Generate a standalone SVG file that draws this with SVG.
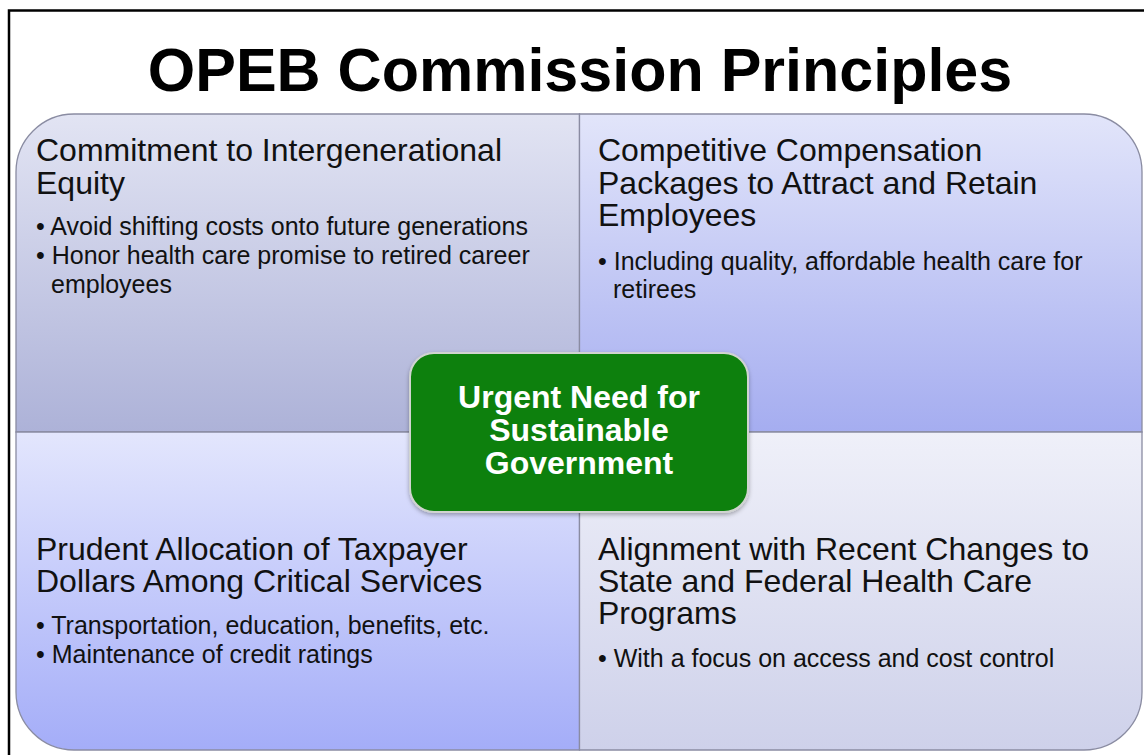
<svg xmlns="http://www.w3.org/2000/svg" width="1144" height="755" viewBox="0 0 1144 755">
<style>
.h{font-family:"Liberation Sans",Arial,sans-serif;font-size:32px;fill:#111}
.b{font-family:"Liberation Sans",Arial,sans-serif;font-size:25px;fill:#111}
.c{font-family:"Liberation Sans",Arial,sans-serif;font-size:32px;font-weight:bold;fill:#fff;text-anchor:middle}
.q{stroke:#8a8ca2;stroke-width:1.3}
</style>
<defs>
<linearGradient id="gTL" x1="0" y1="0" x2="0" y2="1"><stop offset="0" stop-color="#e2e4f3"/><stop offset="1" stop-color="#adb2d8"/></linearGradient>
<linearGradient id="gTR" x1="0" y1="0" x2="0" y2="1"><stop offset="0" stop-color="#e2e5fa"/><stop offset="1" stop-color="#a5adf0"/></linearGradient>
<linearGradient id="gBL" x1="0" y1="0" x2="0" y2="1"><stop offset="0" stop-color="#e3e6fd"/><stop offset="1" stop-color="#a4adf8"/></linearGradient>
<linearGradient id="gBR" x1="0" y1="0" x2="0" y2="1"><stop offset="0" stop-color="#eff0f9"/><stop offset="1" stop-color="#ced1ea"/></linearGradient>
<filter id="sh" x="-10%" y="-10%" width="120%" height="130%"><feDropShadow dx="0" dy="2" stdDeviation="2" flood-color="#000" flood-opacity="0.3"/></filter>
</defs>
<rect x="0" y="0" width="1144" height="755" fill="#fff"/>
<rect x="9" y="10.5" width="1200" height="800" fill="none" stroke="#000" stroke-width="2.5"/>
<text x="580" y="91" font-family="Liberation Sans, Arial, sans-serif" font-size="61" font-weight="bold" fill="#000" text-anchor="middle">OPEB Commission Principles</text>

<g id="tl">
<path class="q" fill="url(#gTL)" d="M16,432 V172 A58,58 0 0 1 74,114 H579.5 V432 Z"/>
<text class="h" x="36" y="161">Commitment to Intergenerational</text>
<text class="h" x="36" y="194">Equity</text>
<text class="b" x="36" y="235">• Avoid shifting costs onto future generations</text>
<text class="b" x="36" y="264">• Honor health care promise to retired career</text>
<text class="b" x="51" y="293">employees</text>
</g>

<g id="tr">
<path class="q" fill="url(#gTR)" d="M579.5,114 H1084 A58,58 0 0 1 1142,172 V432 H579.5 Z"/>
<text class="h" x="598" y="161">Competitive Compensation</text>
<text class="h" x="598" y="194">Packages to Attract and Retain</text>
<text class="h" x="598" y="226">Employees</text>
<text class="b" x="598" y="270">• Including quality, affordable health care for</text>
<text class="b" x="613" y="298">retirees</text>
</g>

<g id="bl">
<path class="q" fill="url(#gBL)" d="M16,432 H579.5 V750 H74 A58,58 0 0 1 16,692 Z"/>
<text class="h" x="36" y="560">Prudent Allocation of Taxpayer</text>
<text class="h" x="36" y="592">Dollars Among Critical Services</text>
<text class="b" x="36" y="634">• Transportation, education, benefits, etc.</text>
<text class="b" x="36" y="663">• Maintenance of credit ratings</text>
</g>

<g id="br">
<path class="q" fill="url(#gBR)" d="M579.5,432 H1142 V692 A58,58 0 0 1 1084,750 H579.5 Z"/>
<text class="h" x="598" y="560">Alignment with Recent Changes to</text>
<text class="h" x="598" y="592">State and Federal Health Care</text>
<text class="h" x="598" y="624">Programs</text>
<text class="b" x="598" y="667">• With a focus on access and cost control</text>
</g>

<g id="center">
<rect x="410" y="353" width="338" height="159" rx="24" fill="#0a800a" stroke="#d0d4d0" stroke-width="2" filter="url(#sh)"/>
<text class="c" x="579" y="408">Urgent Need for</text>
<text class="c" x="579" y="441">Sustainable</text>
<text class="c" x="579" y="474">Government</text>
</g>
<g id="connectors"></g>
</svg>
